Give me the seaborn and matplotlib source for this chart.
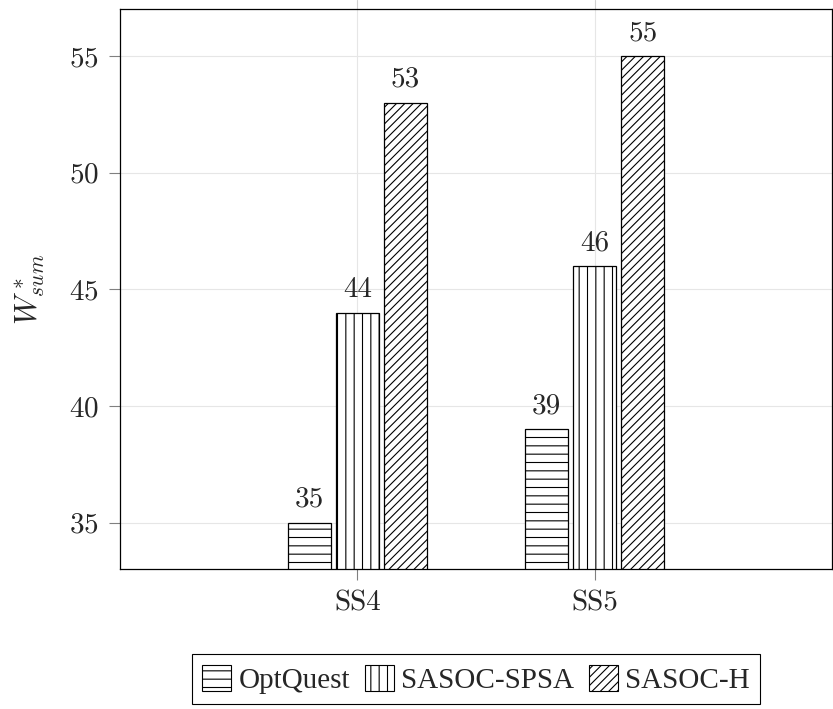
import pandas as pd
import numpy as np
import matplotlib.pyplot as plt
import matplotlib.patches as mpatches
import seaborn as sns

# data
systems = ['SS4', 'SS5']
methods = ['OptQuest', 'SASOC-SPSA', 'SASOC-H']
optquest = [35, 39]
sasoc_spsa = [44, 46]
sasoc_h = [53, 55]
hatches = ['--', '||', '////']

df = pd.DataFrame({
    'system': systems * 3,
    'method': np.repeat(methods, len(systems)),
    'value': optquest + sasoc_spsa + sasoc_h,
})

sns.set_style('ticks')
plt.rcParams['font.family'] = ['cmr10', 'DejaVu Serif']
plt.rcParams['mathtext.fontset'] = 'cm'
plt.rcParams['axes.formatter.use_mathtext'] = True
plt.rcParams['axes.unicode_minus'] = False
plt.rcParams['hatch.linewidth'] = 0.8
plt.rcParams['hatch.color'] = 'black'

fig = plt.figure(figsize=(8.33, 7.09), dpi=100)
ax = fig.add_axes([120 / 833, 1 - 569.3 / 709, 712 / 833, 560 / 709])

sns.barplot(data=df, x='system', y='value', hue='method',
            order=systems, hue_order=methods, palette=['white'] * 3,
            width=0.607, gap=0.097, errorbar=None, edgecolor='black',
            linewidth=0.9, legend=False, ax=ax)

for cont, h in zip(ax.containers, hatches):
    for bar in cont:
        bar.set_hatch(h)
        bar.set_facecolor('white')
    ax.bar_label(cont, padding=7, fontsize=21)

ax.set_xlim(-1, 2)
ax.set_ylim(33, 57)
ax.set_yticks([35, 40, 45, 50, 55])
ax.set_axisbelow(True)
ax.grid(True, color='#e6e6e6', linewidth=0.8)
# pgfplots grid lines poke out above the box
for x in ax.get_xticks():
    ax.axvline(x, ymin=1, ymax=1 + 9.3 / 560, color='#d0d0d0', linewidth=0.8, clip_on=False)

ax.tick_params(direction='out', length=8, width=0.8, color='#808080', labelsize=21, pad=7)
for s in ax.spines.values():
    s.set_visible(True)
    s.set_color('black')
    s.set_linewidth(0.9)

ax.set_xlabel('')
ax.set_ylabel('$W^*_{sum}$', fontsize=22, labelpad=15)

handles = [mpatches.Patch(facecolor='white', edgecolor='black', hatch=h, linewidth=0.8) for h in hatches]
leg = fig.legend(handles, methods, loc='upper center',
                 bbox_to_anchor=(476 / 833, 1 - 654.3 / 709), ncol=3,
                 prop={'family': 'Liberation Serif', 'size': 21},
                 frameon=True, fancybox=False, edgecolor='black', framealpha=1,
                 handlelength=1.0, handleheight=1.0, handletextpad=0.25,
                 columnspacing=0.5, borderpad=0.35, borderaxespad=0)
leg.get_frame().set_linewidth(0.8)

plt.savefig('out.png', dpi=100)
